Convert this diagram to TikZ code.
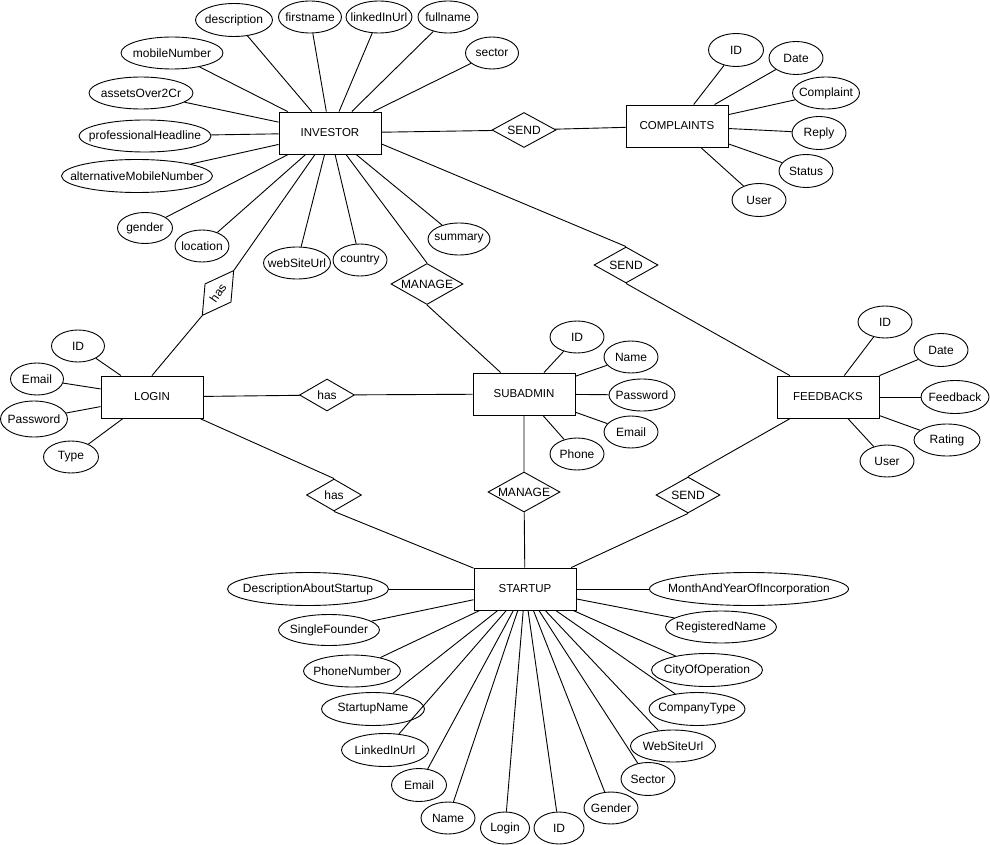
\documentclass[tikz,border=0pt]{standalone}
\usepackage{fontspec}
\setmainfont{Liberation Sans}
\usetikzlibrary{shapes.geometric}
\tikzset{
  entity/.style={draw, rectangle, minimum width=102pt, minimum height=42pt, inner sep=0pt, font=\fontsize{11.5}{13}\selectfont},
  attr/.style={draw, ellipse, minimum width=#1, minimum height=32pt, inner sep=0pt,
    execute at begin node={\hbox to 0pt\bgroup\hss}, execute at end node={\hss\egroup}},
  rel/.style={draw, diamond, minimum width=64pt, minimum height=36pt, inner sep=0pt,
    execute at begin node={\hbox to 0pt\bgroup\hss}, execute at end node={\hss\egroup}},
  relhas/.style={rel, minimum width=55pt, minimum height=32pt},
  relmanage/.style={rel, minimum width=72pt, minimum height=41pt}
}
\begin{document}
\begin{tikzpicture}[x=1pt, y=-1pt, line width=0.9pt, font=\fontsize{12}{14}\selectfont]
\useasboundingbox (0,0) rectangle (990,845);
% entities
\node[entity] (investor) at (330,133) {INVESTOR};
\node[entity] (complaints) at (677,126) {COMPLAINTS};
\node[entity] (login) at (152,397) {LOGIN};
\node[entity] (subadmin) at (524,394) {SUBADMIN};
\node[entity] (feedbacks) at (828,397) {FEEDBACKS};
\node[entity] (startup) at (525,589) {STARTUP};
% relationships
\node[rel, minimum height=35pt] (sendA) at (524,130) {SEND};
\node[rel] (sendB) at (626,265) {SEND};
\node[rel] (sendC) at (688,495) {SEND};
\node[relmanage] (manageA) at (427,284) {MANAGE};
\node[relmanage, minimum height=40pt] (manageB) at (524,492) {MANAGE};
\node[relhas, rotate=55] (hasA) at (218,293) {has};
\node[relhas] (hasB) at (327,395) {has};
\node[relhas] (hasC) at (334,495) {has};
% investor attributes
\node[attr=77pt, minimum height=33pt] (iDesc) at (234,20) {description};
\node[attr=63pt] (iFirst) at (310,17) {firstname};
\node[attr=66pt] (iLinked) at (379,17) {linkedInUrl};
\node[attr=60pt] (iFull) at (448,17) {fullname};
\node[attr=53pt] (iSector) at (492,53) {sector};
\node[attr=102pt] (iMobile) at (172,53) {mobileNumber};
\node[attr=104pt] (iAssets) at (141,93) {assetsOver2Cr};
\node[attr=132pt] (iHead) at (145,136) {professionalHeadline};
\node[attr=151pt, minimum height=33pt] (iAltMob) at (137,176) {alternativeMobileNumber};
\node[attr=55pt, minimum height=31pt] (iGender) at (145,228) {gender};
\node[attr=54pt] (iLoc) at (202,246) {location};
\node[attr=67pt] (iWeb) at (297,263) {webSiteUrl};
\node[attr=54pt] (iCountry) at (360,260) {country};
\node[attr=62pt] (iSummary) at (459,239) {summary};
% complaints attributes
\node[attr=55pt, minimum height=33pt] (cID) at (736,50) {ID};
\node[attr=54pt, minimum height=33pt] (cDate) at (796,58) {Date};
\node[attr=67pt] (cText) at (826,93) {Complaint};
\node[attr=54pt, minimum height=33pt] (cReply) at (819,133) {Reply};
\node[attr=54pt, minimum height=33pt] (cStatus) at (806,171) {Status};
\node[attr=54pt, minimum height=33pt] (cUser) at (759,200) {User};
% login attributes
\node[attr=53pt] (lID) at (78,346) {ID};
\node[attr=53pt] (lEmail) at (37,379) {Email};
\node[attr=67pt, minimum height=36pt] (lPass) at (34,419) {Password};
\node[attr=55pt] (lType) at (71,457) {Type};
% subadmin attributes
\node[attr=54pt] (sID) at (577,337) {ID};
\node[attr=54pt] (sName) at (631,357) {Name};
\node[attr=66pt] (sPass) at (642,395) {Password};
\node[attr=54pt] (sEmail) at (631,432) {Email};
\node[attr=54pt] (sPhone) at (577,454) {Phone};
% feedbacks attributes
\node[attr=54pt] (fID) at (885,322) {ID};
\node[attr=54pt, minimum height=33pt] (fDate) at (941,350) {Date};
\node[attr=68pt, minimum height=33pt] (fText) at (955,397) {Feedback};
\node[attr=66pt] (fRating) at (947,440) {Rating};
\node[attr=54pt] (fUser) at (887,461) {User};
% startup attributes
\node[attr=161pt, minimum height=33pt] (tDesc) at (308,589) {DescriptionAboutStartup};
\node[attr=199pt, minimum height=33pt] (tMonth) at (749,589) {MonthAndYearOfIncorporation};
\node[attr=101pt, minimum height=31pt] (tSingle) at (329,630) {SingleFounder};
\node[attr=111pt] (tReg) at (721,627) {RegisteredName};
\node[attr=97pt] (tPhone) at (352,671) {PhoneNumber};
\node[attr=111pt, minimum height=33pt] (tCity) at (707,670) {CityOfOperation};
\node[attr=103pt, minimum height=33pt] (tName) at (373,709) {StartupName};
\node[attr=96pt, minimum height=33pt] (tType) at (697,709) {CompanyType};
\node[attr=87pt, minimum height=33pt] (tLinked) at (385,750) {LinkedInUrl};
\node[attr=85pt] (tWeb) at (673,746) {WebSiteUrl};
\node[attr=55pt, minimum height=33pt] (tEmail) at (419,785) {Email};
\node[attr=54pt, minimum height=33pt] (tSector) at (648,779) {Sector};
\node[attr=54pt] (tPerson) at (448,818) {Name};
\node[attr=54pt] (tGender) at (611,808) {Gender};
\node[attr=49pt] (tLogin) at (505,828) {Login};
\node[attr=50pt] (tID) at (559,828) {ID};
% attribute lines
\foreach \a in {iDesc,iFirst,iLinked,iFull,iSector,iMobile,iAssets,iHead,iAltMob,iGender,iLoc,iWeb,iCountry,iSummary}
  \draw (investor) -- (\a);
\foreach \a in {cID,cDate,cText,cReply,cStatus,cUser}
  \draw (complaints) -- (\a);
\foreach \a in {lID,lEmail,lPass,lType}
  \draw (login) -- (\a);
\foreach \a in {sID,sName,sPass,sEmail,sPhone}
  \draw (subadmin) -- (\a);
\foreach \a in {fID,fDate,fText,fRating,fUser}
  \draw (feedbacks) -- (\a);
\foreach \a in {tDesc,tMonth,tSingle,tReg,tPhone,tCity,tName,tType,tLinked,tWeb,tEmail,tSector,tPerson,tGender,tLogin,tID}
  \draw (startup) -- (\a);
% relationship lines
\draw (investor) -- (sendA) -- (complaints);
\draw (investor.-12) -- (sendB.north);
\draw (sendB.south) -- (feedbacks);
\draw (investor) -- (manageA.north);
\draw (manageA.south) -- (subadmin);
\draw (investor) -- (hasA.east);
\draw (hasA.west) -- (login.north);
\draw (login) -- (hasB) -- (subadmin);
\draw (login) -- (hasC.north);
\draw (hasC.south) -- (startup);
\draw (subadmin) -- (manageB) -- (startup);
\draw (feedbacks) -- (sendC.north);
\draw (sendC.south) -- (startup);
\end{tikzpicture}
\end{document}
